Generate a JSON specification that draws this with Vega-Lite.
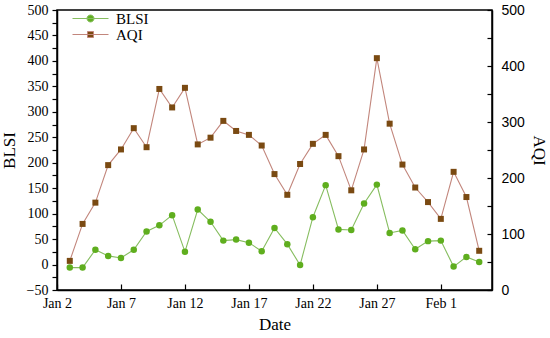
{
  "$schema": "https://vega.github.io/schema/vega-lite/v6.json",
  "width": 435,
  "height": 280,
  "autosize": {"type": "none"},
  "padding": {"left": 57, "top": 10, "right": 58, "bottom": 48},
  "background": "white",
  "config": {
    "view": {"stroke": "black", "strokeWidth": 1.5},
    "axis": {"grid": false, "domainColor": "black", "domainWidth": 1.5, "tickColor": "black", "tickWidth": 1.2, "labelColor": "black", "titleColor": "black", "titleFontWeight": "normal"}
  },
  "data": {
    "values": [
      {"date": "2019-01-03T00:00:00", "BLSI": -6, "AQI": 52},
      {"date": "2019-01-04T00:00:00", "BLSI": -6, "AQI": 118},
      {"date": "2019-01-05T00:00:00", "BLSI": 29, "AQI": 156},
      {"date": "2019-01-06T00:00:00", "BLSI": 17, "AQI": 223},
      {"date": "2019-01-07T00:00:00", "BLSI": 13, "AQI": 251},
      {"date": "2019-01-08T00:00:00", "BLSI": 29, "AQI": 289},
      {"date": "2019-01-09T00:00:00", "BLSI": 65, "AQI": 255},
      {"date": "2019-01-10T00:00:00", "BLSI": 77, "AQI": 359},
      {"date": "2019-01-11T00:00:00", "BLSI": 97, "AQI": 326},
      {"date": "2019-01-12T00:00:00", "BLSI": 25, "AQI": 361},
      {"date": "2019-01-13T00:00:00", "BLSI": 108, "AQI": 260},
      {"date": "2019-01-14T00:00:00", "BLSI": 84, "AQI": 272},
      {"date": "2019-01-15T00:00:00", "BLSI": 47, "AQI": 302},
      {"date": "2019-01-16T00:00:00", "BLSI": 49, "AQI": 284},
      {"date": "2019-01-17T00:00:00", "BLSI": 43, "AQI": 277},
      {"date": "2019-01-18T00:00:00", "BLSI": 26, "AQI": 258},
      {"date": "2019-01-19T00:00:00", "BLSI": 72, "AQI": 207},
      {"date": "2019-01-20T00:00:00", "BLSI": 40, "AQI": 170},
      {"date": "2019-01-21T00:00:00", "BLSI": -1, "AQI": 225},
      {"date": "2019-01-22T00:00:00", "BLSI": 93, "AQI": 261},
      {"date": "2019-01-23T00:00:00", "BLSI": 156, "AQI": 277},
      {"date": "2019-01-24T00:00:00", "BLSI": 69, "AQI": 239},
      {"date": "2019-01-25T00:00:00", "BLSI": 68, "AQI": 178},
      {"date": "2019-01-26T00:00:00", "BLSI": 120, "AQI": 251},
      {"date": "2019-01-27T00:00:00", "BLSI": 157, "AQI": 414},
      {"date": "2019-01-28T00:00:00", "BLSI": 62, "AQI": 297},
      {"date": "2019-01-29T00:00:00", "BLSI": 67, "AQI": 224},
      {"date": "2019-01-30T00:00:00", "BLSI": 30, "AQI": 183},
      {"date": "2019-01-31T00:00:00", "BLSI": 46, "AQI": 157},
      {"date": "2019-02-01T00:00:00", "BLSI": 47, "AQI": 127},
      {"date": "2019-02-02T00:00:00", "BLSI": -4, "AQI": 211},
      {"date": "2019-02-03T00:00:00", "BLSI": 15, "AQI": 166},
      {"date": "2019-02-04T00:00:00", "BLSI": 5, "AQI": 70}
    ]
  },
  "encoding": {
    "x": {
      "field": "date",
      "type": "temporal",
      "scale": {"domain": [{"year": 2019, "month": 1, "date": 2}, {"year": 2019, "month": 2, "date": 5}]},
      "axis": {
        "title": "Date",
        "titleFont": "Liberation Serif",
        "titleFontSize": 17,
        "titlePadding": 6,
        "labelFont": "Liberation Serif",
        "labelFontSize": 14,
        "labelPadding": 12,
        "tickSize": -6,
        "format": "%b %-d",
        "labelFlush": false,
        "values": [
          {"year": 2019, "month": 1, "date": 2},
          {"year": 2019, "month": 1, "date": 7},
          {"year": 2019, "month": 1, "date": 12},
          {"year": 2019, "month": 1, "date": 17},
          {"year": 2019, "month": 1, "date": 22},
          {"year": 2019, "month": 1, "date": 27},
          {"year": 2019, "month": 2, "date": 1}
        ]
      }
    }
  },
  "layer": [
    {
      "encoding": {
        "y": {
          "field": "BLSI",
          "type": "quantitative",
          "scale": {"domain": [-50, 500], "nice": false, "zero": false},
          "axis": {
            "orient": "left",
            "title": "BLSI",
            "titleFont": "Liberation Serif",
            "titleFontSize": 17,
            "titlePadding": 8,
            "labelFont": "Liberation Serif",
            "labelFontSize": 14,
            "labelPadding": 4,
            "tickSize": 5,
            "values": [-50, -25, 0, 25, 50, 75, 100, 125, 150, 175, 200, 225, 250, 275, 300, 325, 350, 375, 400, 425, 450, 475, 500],
            "labelExpr": "datum.value % 50 === 0 ? datum.label : ''"
          }
        }
      },
      "layer": [
        {
          "mark": {"type": "line", "strokeWidth": 1.1},
          "encoding": {
            "color": {
              "datum": "BLSI",
              "scale": {"domain": ["BLSI", "AQI"], "range": ["#86bd5f", "#c2867c"]},
              "legend": {
                "title": null,
                "orient": "none",
                "legendX": 26,
                "legendY": 1,
                "labelFont": "Liberation Serif",
                "labelFontSize": 15,
                "labelColor": "black",
                "symbolSize": 144,
                "symbolType": "M-3,0H3",
                "symbolStrokeWidth": 1,
                "rowPadding": 0,
                "labelOffset": 18,
                "encode": {
                  "symbols": {
                    "update": {
                      "shape": {"signal": "datum.value === 'BLSI' ? 'M-3,0H3M0.58,0A0.58,0.58 0 1,1 -0.58,0A0.58,0.58 0 1,1 0.58,0Z' : 'M-3,0H3M-0.5,-0.5H0.5V0.5H-0.5Z'"},
                      "fill": {"signal": "datum.value === 'BLSI' ? '#5fae1e' : '#7a4a12'"},
                      "fillOpacity": {"value": 1}
                    }
                  }
                }
              }
            }
          }
        },
        {
          "mark": {"type": "point", "shape": "circle", "filled": true, "size": 42, "opacity": 1},
          "encoding": {"color": {"value": "#5fae1e"}}
        }
      ]
    },
    {
      "encoding": {
        "y": {
          "field": "AQI",
          "type": "quantitative",
          "scale": {"domain": [0, 500], "nice": false},
          "axis": {
            "orient": "right",
            "title": "AQI",
            "titleFont": "Liberation Serif",
            "titleFontSize": 17,
            "titleAngle": 90,
            "titlePadding": 5,
            "labelFont": "Liberation Sans",
            "labelFontSize": 14,
            "labelPadding": 14,
            "tickSize": -5,
            "values": [0, 50, 100, 150, 200, 250, 300, 350, 400, 450, 500],
            "labelExpr": "datum.value % 100 === 0 ? datum.label : ''"
          }
        }
      },
      "layer": [
        {"mark": {"type": "line", "strokeWidth": 1.1}, "encoding": {"color": {"datum": "AQI"}}},
        {
          "mark": {"type": "point", "shape": "square", "filled": true, "size": 36, "opacity": 1},
          "encoding": {"color": {"value": "#7a4a12"}}
        }
      ]
    }
  ],
  "resolve": {"scale": {"y": "independent"}}
}
